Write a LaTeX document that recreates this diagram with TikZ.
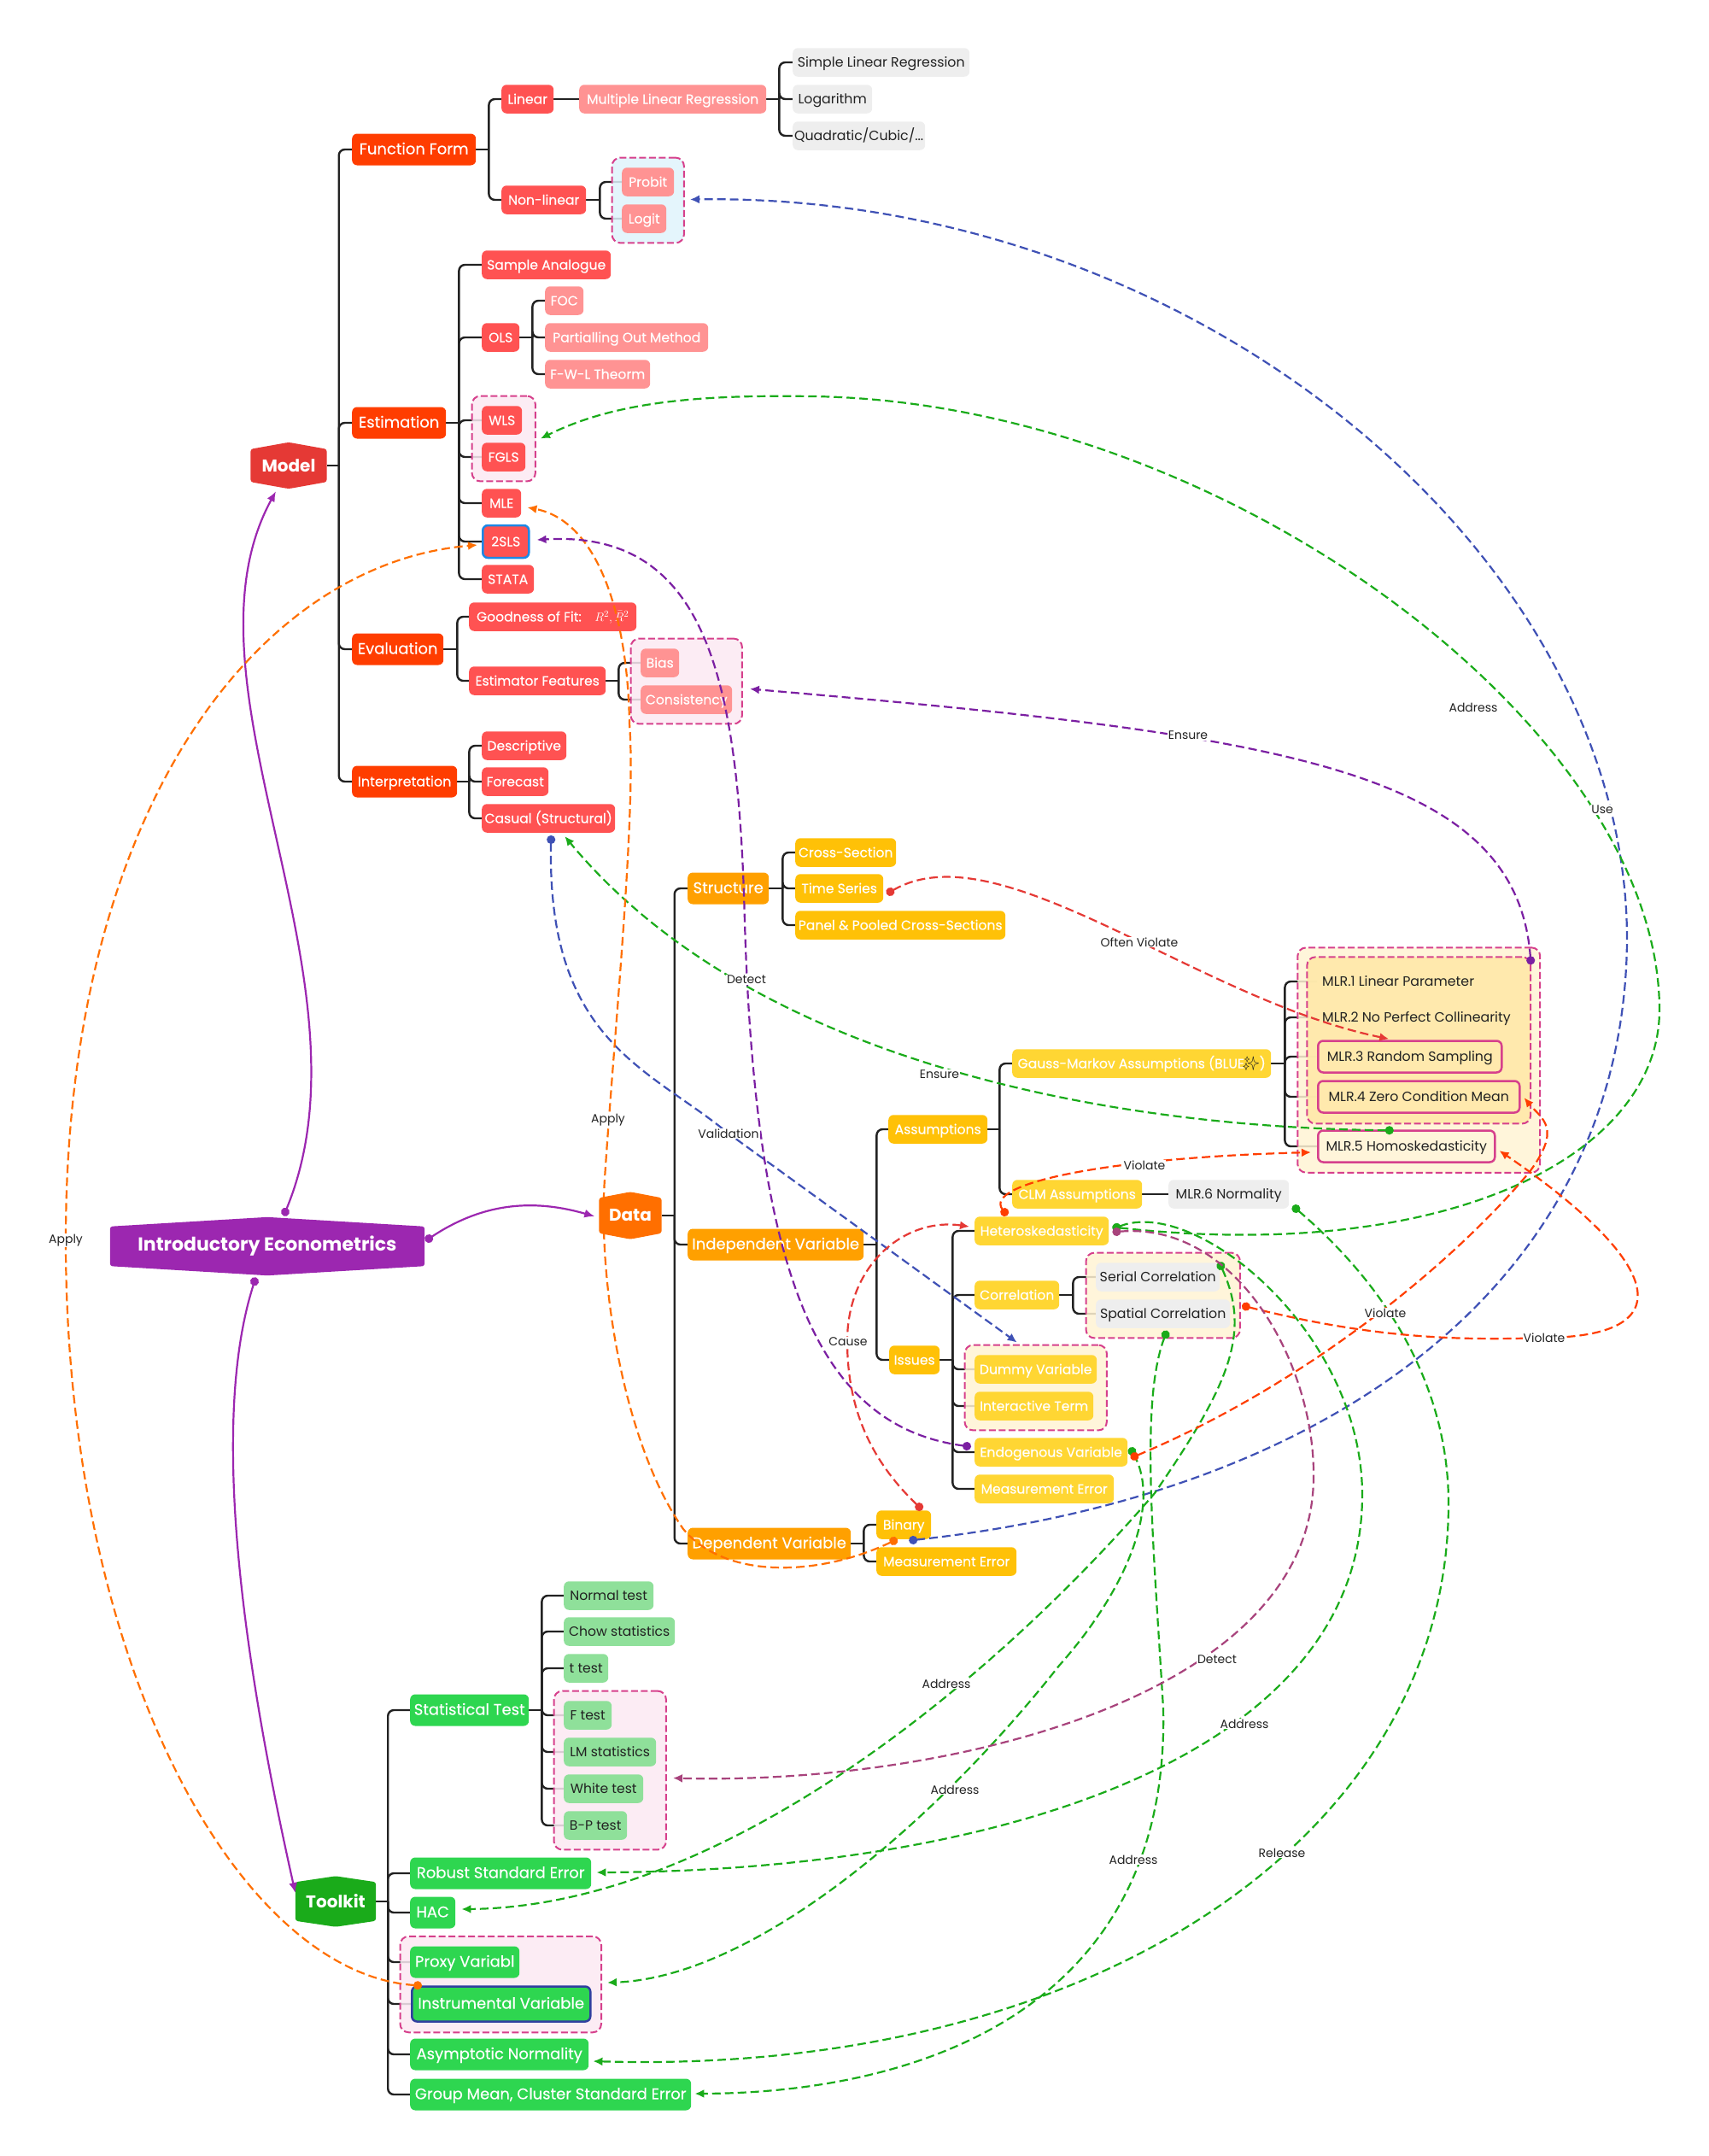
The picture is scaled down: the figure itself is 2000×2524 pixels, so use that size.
\documentclass[tikz,border=0pt]{standalone}
\usepackage{fontspec}
\setmainfont{Poppins}
\newfontfamily\topicfont{Poppins}[FakeBold=0.15]
\newfontfamily\emojifont{Noto Emoji}
\usetikzlibrary{arrows.meta, positioning, calc, backgrounds, fit}
\definecolor{RootPurple}{HTML}{9C27B0}
\definecolor{ModelRed}{HTML}{E53935}
\definecolor{RedB}{HTML}{FF3D00}
\definecolor{RedC}{HTML}{FF5252}
\definecolor{RedD}{HTML}{FF9393}
\definecolor{DataOrange}{HTML}{FF6F00}
\definecolor{AmberB}{HTML}{FFA000}
\definecolor{AmberC}{HTML}{FFC107}
\definecolor{AmberD}{HTML}{FFD633}
\definecolor{ToolGreen}{HTML}{1AAB1A}
\definecolor{GreenB}{HTML}{2ED650}
\definecolor{GreenC}{HTML}{8FE09A}
\definecolor{LeafGray}{HTML}{EEEEEE}
\definecolor{InkDark}{HTML}{222222}
\definecolor{GroupEdge}{HTML}{D6408C}
\definecolor{GroupPink}{HTML}{FBE9F2}
\definecolor{GroupBlue}{HTML}{DFF3FC}
\definecolor{GroupCream}{HTML}{FFF3D4}
\definecolor{GroupGold}{HTML}{FFE9A9}
\definecolor{LinkBlue}{HTML}{3F51B5}
\definecolor{LinkGreen}{HTML}{1AAB1A}
\definecolor{LinkOrange}{HTML}{FF6F00}
\definecolor{LinkViolet}{HTML}{7B1FA2}
\definecolor{LinkRed}{HTML}{E53935}
\definecolor{LinkFlame}{HTML}{FF3D00}
\definecolor{LinkMauve}{HTML}{A8437C}
\definecolor{FocusBlue}{HTML}{1E88E5}
\definecolor{FocusNavy}{HTML}{303F9F}

\tikzset{
    topic/.style={rectangle, rounded corners=6pt, anchor=west, inner sep=0pt, text=white,
        font=\topicfont\fontsize{15.6}{18}\selectfont, text height=13pt, text depth=2pt, minimum height=33.5pt},
    redB/.style={topic, fill=RedB, minimum height=37pt, font=\topicfont\fontsize{18}{20}\selectfont},
    redC/.style={topic, fill=RedC},
    redD/.style={topic, fill=RedD},
    amberB/.style={topic, fill=AmberB, minimum height=37pt, font=\topicfont\fontsize{18}{20}\selectfont},
    amberC/.style={topic, fill=AmberC},
    amberD/.style={topic, fill=AmberD},
    greenB/.style={topic, fill=GreenB, minimum height=37pt, font=\topicfont\fontsize{18}{20}\selectfont},
    greenC/.style={topic, fill=GreenC, text=InkDark, font=\fontsize{15.6}{18}\selectfont},
    leaf/.style={topic, fill=LeafGray, text=InkDark, font=\fontsize{15.8}{18}\selectfont},
    plainmlr/.style={topic, text=InkDark, font=\fontsize{15.8}{18}\selectfont, inner xsep=6pt},
    focusmlr/.style={topic, text=InkDark, font=\fontsize{15.8}{18}\selectfont, draw=GroupEdge, line width=2.5pt, minimum height=37pt},
    hexlabel/.style={inner sep=0pt, text=white, font=\bfseries\fontsize{#1}{#1}\selectfont},
    treeline/.style={draw=InkDark, line width=2.4pt, rounded corners=7pt},
    groupbox/.style={rectangle, draw=GroupEdge, line width=2pt, dash pattern=on 8pt off 3.5pt,
        rounded corners=10pt, inner sep=11.5pt, fill=#1, fill opacity=0.85},
    link/.style={draw=#1, line width=2.2pt, dash pattern=on 10pt off 5pt, shorten <=-5pt,
        {Circle[length=10pt,width=10pt,fill=#1]}-{Latex[length=11pt,width=10pt,fill=#1]}},
    rootlink/.style={draw=RootPurple, line width=2.2pt, shorten <=-5pt,
        {Circle[length=10pt,width=10pt]}-{Latex[length=12pt,width=10pt]}},
    linklabel/.style={fill=white, inner sep=1pt, text=InkDark, font=\fontsize{14}{16}\selectfont},
}

% one row of topics: name/left/middle/width/text
\newcommand{\topics}[2]{\foreach \nm/\xx/\yy/\ww/\txt in {#2} {
    \node[#1, minimum width=\ww pt] (\nm) at (\xx,\yy) {\txt};
}}
% stub out of a parent, then one rounded elbow per child
\newcommand{\treeto}[3]{
    \draw[treeline] (#1.east) -- ++(#2,0) coordinate (tk);
    \foreach \kid in {#3} { \draw[treeline] (tk) |- (\kid.west); }
}
\newcommand{\hexfill}[3]{
    \fill[#2, rounded corners=3pt] (#1.north) -- ($(#1.north east)+(0,#3)$) -- ($(#1.south east)+(0,-#3)$)
        -- (#1.south) -- ($(#1.south west)+(0,-#3)$) -- ($(#1.north west)+(0,#3)$) -- cycle;
}

\begin{document}
\begin{tikzpicture}[x=1pt, y=-1pt]
    \useasboundingbox (0,0) rectangle (2000,2524);

    % Main topics
    \node[hexlabel=22, minimum width=368pt, minimum height=68pt] (intro) at (313,1459) {Introductory Econometrics};
    \node[hexlabel=20, minimum width=89pt, minimum height=54pt] (model) at (338,545) {Model};
    \node[hexlabel=20, minimum width=73pt, minimum height=55pt] (data) at (738,1423) {Data};
    \node[hexlabel=20, minimum width=94pt, minimum height=59pt] (toolkit) at (393,2226) {Toolkit};

    % --- Model ---
    \topics{redB}{ff/412/175/145/Function Form, est/412/495/110/Estimation, eval/412/760/107/Evaluation}
    \node[redB, minimum width=123pt, font=\topicfont\fontsize{16}{18}\selectfont] (interp) at (412,915) {Interpretation};
    \topics{redC}{linear/587/116/61/Linear, nonlin/587/234/99/Non-linear, sample/564/310/151/Sample Analogue,
        ols/564/395/44/OLS, wls/564/492/47/WLS, fgls/564/535/51/FGLS, mle/564/589/46/MLE, stata/564/678/61/STATA,
        gof/549/722/196/{Goodness of Fit:\quad $R^2,\bar{R}^2$}, estf/549/797/160/Estimator Features,
        desc/564/873/99/Descriptive, fore/564/915/78/Forecast, casual/564/958/156/Casual (Structural)}
    \node[redC, minimum width=54pt, minimum height=38pt, draw=FocusBlue, line width=2.5pt] (tsls) at (564,634) {2SLS};
    \topics{redD}{mlr/678/116/219/Multiple Linear Regression, probit/728/213/61/Probit, logit/728/256/52/Logit,
        foc/638/352/45/FOC, pom/638/395/191/Partialling Out Method, fwl/638/438/123/F-W-L Theorm,
        bias/750/776/45/Bias, cons/750/819/107/Consistency}
    \topics{leaf}{slr/928/73/207/Simple Linear Regression, log/928/116/93/Logarithm, quad/928/159/155/{Quadratic/Cubic/...}}

    % --- Data ---
    \topics{amberB}{struct/805/1040/95/Structure, indep/805/1457/206/Independent Variable, dep/805/1807/191/Dependent Variable}
    \topics{amberC}{cross/931/998/118/Cross-Section, time/931/1040/103/Time Series, panel/931/1083/246/Panel \& Pooled Cross-Sections,
        assum/1040/1322/116/Assumptions, issues/1041/1592/59/Issues, binary/1026/1785/64/Binary, measB/1026/1828/164/Measurement Error}
    \topics{amberD}{gauss/1185/1245/303/{Gauss-Markov Assumptions (BLUE{\kern-2pt\emojifont\textcolor{InkDark}{✨}})}, clm/1185/1398/152/CLM Assumptions,
        hetero/1141/1441/157/Heteroskedasticity, corr/1141/1516/99/Correlation, dummy/1141/1603/143/Dummy Variable,
        inter/1141/1646/139/Interactive Term, endo/1141/1700/179/Endogenous Variable, meas/1141/1743/163/Measurement Error}
    \topics{leaf}{mlrF/1368/1398/141/MLR.6 Normality, serial/1283/1495/145/Serial Correlation, spatial/1283/1538/157/Spatial Correlation}
    \topics{plainmlr}{mlrA/1542/1149/1/MLR.1 Linear Parameter, mlrB/1542/1191/1/MLR.2 No Perfect Collinearity}
    \topics{focusmlr}{mlrC/1542/1237/215/MLR.3 Random Sampling, mlrD/1542/1284/236/MLR.4 Zero Condition Mean, mlrE/1542/1342/207/MLR.5 Homoskedasticity}

    % --- Toolkit ---
    \topics{greenB}{stat/480/2002/139/Statistical Test, robust/480/2193/212/Robust Standard Error, hac/480/2239/53/HAC,
        proxy/480/2297/128/Proxy Variabl, asym/480/2405/209/Asymptotic Normality, group/480/2452/329/{Group Mean, Cluster Standard Error}}
    \node[greenB, minimum width=209pt, minimum height=41pt, draw=FocusNavy, line width=2.5pt] (inst) at (481,2346) {Instrumental Variable};
    \topics{greenC}{normal/660/1868/105/Normal test, chow/660/1910/130/Chow statistics, ttest/660/1953/52/t test, ftest/660/2008/56/F test,
        lm/660/2051/108/LM statistics, white/660/2094/93/White test, bp/660/2137/74/B-P test}

    % Tree lines, group frames and hexagons sit under the topics
    \begin{scope}[on background layer]
        \treeto{model}{14}{ff,est,eval,interp}
        \treeto{ff}{15}{linear,nonlin}
        \draw[treeline] (linear.east) -- (mlr.west);
        \treeto{mlr}{15}{slr,log,quad}
        \treeto{nonlin}{16}{probit,logit}
        \treeto{est}{15}{sample,ols,wls,fgls,mle,tsls,stata}
        \treeto{ols}{15}{foc,pom,fwl}
        \treeto{eval}{16}{gof,estf}
        \treeto{estf}{15}{bias,cons}
        \treeto{interp}{14}{desc,fore,casual}
        \treeto{data}{15}{struct,indep,dep}
        \treeto{struct}{16}{cross,time,panel}
        \treeto{indep}{15}{assum,issues}
        \treeto{assum}{14}{gauss,clm}
        \treeto{gauss}{16}{mlrA,mlrB,mlrC,mlrD,mlrE}
        \draw[treeline] (clm.east) -- (mlrF.west);
        \treeto{issues}{15}{hetero,corr,dummy,inter,endo,meas}
        \treeto{corr}{16}{serial,spatial}
        \treeto{dep}{15}{binary,measB}
        \treeto{toolkit}{14}{stat,robust,hac,proxy,inst,asym,group}
        \treeto{stat}{15}{normal,chow,ttest,ftest,lm,white,bp}

        \node[groupbox=GroupBlue, fit=(probit)(logit)] (grpLogit) {};
        \node[groupbox=GroupPink, fit=(wls)(fgls)] (grpFgls) {};
        \node[groupbox=GroupPink, fit=(bias)(cons)] (grpCons) {};
        \node[inner sep=11.5pt, fit=(mlrA)(mlrB)(mlrC)(mlrD)] (mlrArea) {};
        \node[groupbox=GroupCream, fit=(mlrArea)(mlrE), inner sep=11pt] (grpOuter) {};
        \node[groupbox=GroupGold, fit=(mlrArea), inner sep=0pt, fill opacity=0.9] (grpInner) {};
        \node[groupbox=GroupCream, fit=(serial)(spatial)] (grpCorr) {};
        \node[groupbox=GroupCream, fit=(dummy)(inter)] (grpDummy) {};
        \node[groupbox=GroupPink, fit=(ftest)(lm)(white)(bp)] (grpTest) {};
        \node[groupbox=GroupPink, fit=(proxy)(inst)] (grpInst) {};

        \hexfill{intro}{RootPurple}{11}
        \hexfill{model}{ModelRed}{8}
        \hexfill{data}{DataOrange}{7}
        \hexfill{toolkit}{ToolGreen}{7}
    \end{scope}

    % --- Root to main topics ---
    \draw[rootlink] ([shift={(21,-6)}]intro.north) .. controls (445,1150) and (200,800) .. ([shift={(-15,3)}]model.south);
    \draw[rootlink] ([shift={(5,-9)}]intro.east) .. controls (570,1405) and (630,1405) .. ([shift={(-5,1)}]data.west);
    \draw[rootlink] ([shift={(-15,7)}]intro.south) .. controls (250,1650) and (275,1900) .. ([shift={(0,-10)}]toolkit.west);

    % --- Blue links ---
    \draw[link=LinkBlue] ([shift={(11,1)}]binary.south) .. controls (1560,1750) and (1902,1500) .. (1905,1100)
        .. controls (1905,650) and (1400,225) .. ([shift={(6,-1)}]grpLogit.east);
    \draw[link=LinkBlue] ([shift={(3,8)}]casual.south) .. controls (640,1220) and (760,1250) .. (853,1327)
        -- ([shift={(-22,-2)}]grpDummy.north);

    % --- Green links ---
    \draw[link=LinkGreen] ([shift={(9,-4)}]hetero.east) .. controls (1700,1480) and (1945,1350) .. (1943,1180)
        .. controls (1940,850) and (1430,470) .. (950,464) .. controls (820,462) and (720,470) .. ([shift={(5,0)}]grpFgls.east);
    \draw[link=LinkGreen] ([shift={(-20,1)}]mlrE.north) .. controls (1300,1320) and (881,1244) .. ([shift={(19,4)}]casual.south);
    \draw[link=LinkGreen] ([shift={(9,-4)}]hetero.east) .. controls (1400,1400) and (1595,1560) .. (1595,1750)
        .. controls (1595,2060) and (1160,2190) .. ([shift={(6,-1)}]robust.east);
    \draw[link=LinkGreen] ([shift={(1,-13)}]serial.east) .. controls (1465,1560) and (1440,1620) .. (1352,1748)
        .. controls (1170,1960) and (850,2232) .. ([shift={(7,-4)}]hac.east);
    \draw[link=LinkGreen] ([shift={(5,-1)}]endo.east) .. controls (1360,1760) and (1320,1860) .. (1240,1950)
        .. controls (1090,2140) and (880,2315) .. ([shift={(6,-2)}]grpInst.east);
    \draw[link=LinkGreen] ([shift={(3,-5)}]grpCorr.south) .. controls (1335,1640) and (1350,1800) .. (1362,2000)
        .. controls (1370,2350) and (1080,2450) .. ([shift={(4,-1)}]group.east);
    \draw[link=LinkGreen] ([shift={(8,17)}]mlrF.east) .. controls (1640,1520) and (1696,1640) .. (1696,1760)
        .. controls (1696,2150) and (1280,2430) .. ([shift={(5,8)}]asym.east);

    % --- Orange links ---
    \draw[link=LinkOrange] ([shift={(-12,2)}]binary.south) .. controls (960,1845) and (850,1850) .. (800,1790)
        .. controls (730,1690) and (700,1500) .. (708,1380) .. controls (720,1200) and (745,950) .. (737,847)
        .. controls (735,720) and (700,610) .. ([shift={(7,5)}]mle.east);
    \draw[link=LinkOrange] ([shift={(8,0)}]inst.north west) .. controls (280,2310) and (77,1950) .. (77,1452)
        .. controls (77,950) and (300,660) .. ([shift={(-5,4)}]tsls.west);

    % --- Violet links ---
    \draw[link=LinkViolet] ([shift={(-9,-7)}]endo.west) .. controls (960,1670) and (885,1500) .. (872,1080)
        .. controls (865,800) and (830,620) .. ([shift={(8,-2)}]tsls.east);
    \draw[link=LinkViolet] ([shift={(-1,5)}]grpInner.north east) .. controls (1775,900) and (1500,860) .. ([shift={(8,9)}]grpCons.east);

    % --- Red links ---
    \draw[link=LinkRed] ([shift={(8,4)}]time.east) .. controls (1170,970) and (1400,1170) .. ([shift={(-24.5,-1)}]mlrC.north);
    \draw[link=LinkRed] ([shift={(18,-4)}]binary.north) .. controls (1020,1710) and (992,1650) .. (992,1570)
        .. controls (992,1480) and (1060,1425) .. ([shift={(-6,-5)}]hetero.west);
    \draw[link=LinkFlame] ([shift={(-43.5,-5)}]hetero.north) .. controls (1150,1385) and (1300,1355) .. ([shift={(-7,7)}]mlrE.west);
    \draw[link=LinkFlame] ([shift={(8,5)}]endo.east) .. controls (1530,1620) and (1700,1480) .. (1790,1373)
        .. controls (1830,1320) and (1805,1310) .. ([shift={(4,1)}]mlrD.east);
    \draw[link=LinkFlame] ([shift={(6,13)}]grpCorr.east) .. controls (1600,1565) and (1700,1570) .. (1808,1566)
        .. controls (1970,1565) and (1950,1480) .. ([shift={(4,5)}]mlrE.east);

    % --- Mauve link ---
    \draw[link=LinkMauve] ([shift={(9,1)}]hetero.east) .. controls (1450,1430) and (1540,1600) .. (1538,1730)
        .. controls (1536,1990) and (1100,2090) .. ([shift={(7,9)}]grpTest.east);

    % Words on the links
    \foreach \nm/\xx/\yy/\txt in {lbUse/1876/948/Use, lbAddrA/1725/828/Address, lbEnsA/1391/861/Ensure, lbEnsB/1100/1258/Ensure,
        lbDetA/874/1147/Detect, lbDetB/1425/1943/Detect, lbValid/853/1327/Validation, lbApplyA/712/1311/Apply, lbApplyB/77/1452/Apply,
        lbOften/1334/1103/Often Violate, lbCause/993/1571/Cause, lbVioA/1340/1364/Violate, lbVioB/1622/1537/Violate, lbVioC/1808/1566/Violate,
        lbAddrB/1108/1971/Address, lbAddrC/1457/2018/Address, lbAddrD/1118/2095/Address, lbAddrE/1327/2177/Address, lbRel/1501/2169/Release} {
        \node[linklabel] (\nm) at (\xx,\yy) {\txt};
    }
\end{tikzpicture}
\end{document}
